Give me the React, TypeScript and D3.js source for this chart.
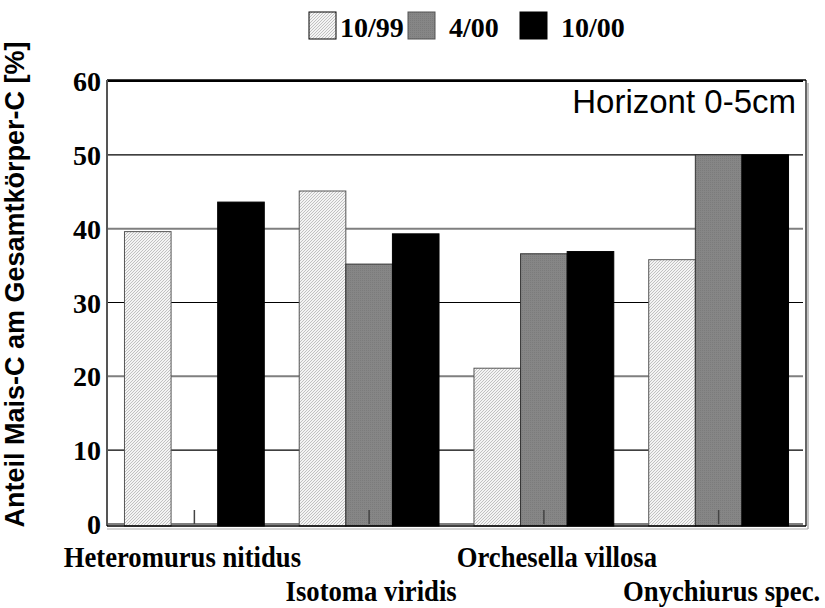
import React from "react";
import * as d3 from "d3";

const categories = ["Heteromurus nitidus", "Isotoma viridis", "Orchesella villosa", "Onychiurus spec."];
const seriesNames = ["10/99", "4/00", "10/00"];
const v1099: (number | null)[] = [39.6, 45.1, 21.1, 35.8];
const v400: (number | null)[] = [null, 35.2, 36.6, 50];
const v1000: (number | null)[] = [43.6, 39.3, 36.9, 50];
const yTicks = [0, 10, 20, 30, 40, 50, 60];

const W = 825, H = 608;
const L = 107, R = 806, T = 81, B = 524;
const SERIF = "'Liberation Serif', 'Times New Roman', serif";
const SANS = "'Liberation Sans', Arial, sans-serif";

export default function App() {
  const values = [v1099, v400, v1000];
  const x = d3.scaleBand<string>().domain(categories).range([L, R]).paddingInner(0.2).paddingOuter(0.1);
  const xs = d3.scaleBand<string>().domain(seriesNames).range([0, x.bandwidth()]).padding(0);
  const y = d3.scaleLinear().domain([0, 60]).range([B, T]);
  const fills = ["url(#hatch)", "url(#dots)", "#000"];
  const strokes = ["#555", "#333", "#000"];

  const legendX = [309, 408, 520];
  const legendTextX = [340, 449, 561];
  const labelShift = [-12, 2, 13, 3];

  return (
    <svg width={W} height={H} style={{ position: "absolute", left: 0, top: 0, background: "#fff" }}>
      <defs>
        <pattern id="hatch" width="3" height="3" patternUnits="userSpaceOnUse">
          <rect width="3" height="3" fill="#f4f4f4" />
          <path d="M0,3 L3,0 M-1,1 L1,-1 M2,4 L4,2" stroke="#b4b4b4" strokeWidth="0.8" />
        </pattern>
        <pattern id="dots" width="2" height="2" patternUnits="userSpaceOnUse">
          <rect width="2" height="2" fill="#868686" />
          <rect width="1" height="1" fill="#7b7b7b" />
        </pattern>
      </defs>

      {/* plot frame shadow */}
      <line x1={L} x2={R + 2} y1={B + 5} y2={B + 5} stroke="#c8c8c8" strokeWidth={1.5} />
      <line x1={R + 2} x2={R + 2} y1={T + 2} y2={B + 5} stroke="#b0b0b0" strokeWidth={1.5} />

      {/* gridlines */}
      {yTicks.map((t) => (
        <line key={t} x1={L} x2={R - 3} y1={y(t)} y2={y(t)}
          stroke={t % 20 === 0 && t !== 60 ? "#7f7f7f" : "#000"}
          strokeWidth={t % 20 === 0 ? 2 : 1.2} />
      ))}

      {/* bars */}
      {categories.map((c, i) => (
        <g key={c}>
          {seriesNames.map((s, j) => {
            const v = values[j][i];
            if (v === null) return null;
            const x0 = (x(c) as number) + (xs(s) as number);
            return (
              <rect key={s} x={x0} y={y(v)} width={xs.bandwidth()} height={B + 2 - y(v)}
                fill={fills[j]} stroke={strokes[j]} strokeWidth={1} />
            );
          })}
          <line x1={(x(c) as number) + x.bandwidth() / 2} x2={(x(c) as number) + x.bandwidth() / 2}
            y1={B - 14} y2={B} stroke="#444" strokeWidth={1.5} />
        </g>
      ))}

      {/* frame */}
      <line x1={L} x2={R} y1={T - 1} y2={T - 1} stroke="#000" strokeWidth={1.5} />
      <line x1={L} x2={L} y1={T - 1} y2={B + 2} stroke="#555" strokeWidth={2} />
      <line x1={R} x2={R} y1={T - 1} y2={B + 2} stroke="#000" strokeWidth={1.2} />
      <line x1={L} x2={R} y1={B + 2} y2={B + 2} stroke="#000" strokeWidth={1.5} />

      {/* y tick labels */}
      {yTicks.map((t) => (
        <text key={t} x={101} y={y(t) + 10} textAnchor="end" fontFamily={SERIF} fontWeight="bold" fontSize={28}>
          {t}
        </text>
      ))}

      {/* y title */}
      <text transform={`translate(24,${(42 + 527) / 2}) rotate(-90)`} textAnchor="middle"
        fontFamily={SANS} fontWeight="bold" fontSize={27}>
        Anteil Mais-C am Gesamtkörper-C [%]
      </text>

      {/* x labels */}
      {categories.map((c, i) => (
        <text key={c}
          transform={`translate(${(x(c) as number) + x.bandwidth() / 2 + labelShift[i]},${i % 2 === 0 ? 567 : 601}) scale(0.92,1)`}
          textAnchor="middle" fontFamily={SERIF} fontWeight="bold" fontSize={29}>
          {c}
        </text>
      ))}

      {/* annotation */}
      <text x={796} y={113} textAnchor="end" fontFamily={SANS} fontSize={33}>Horizont 0-5cm</text>

      {/* legend */}
      {seriesNames.map((s, j) => (
        <g key={s}>
          <rect x={legendX[j]} y={12} width={27} height={27} fill={fills[j]} stroke={j === 1 ? "#555" : "#000"} strokeWidth={1} />
          <text x={legendTextX[j]} y={37} fontFamily={SERIF} fontWeight="bold" fontSize={28}>{s}</text>
        </g>
      ))}
    </svg>
  );
}
